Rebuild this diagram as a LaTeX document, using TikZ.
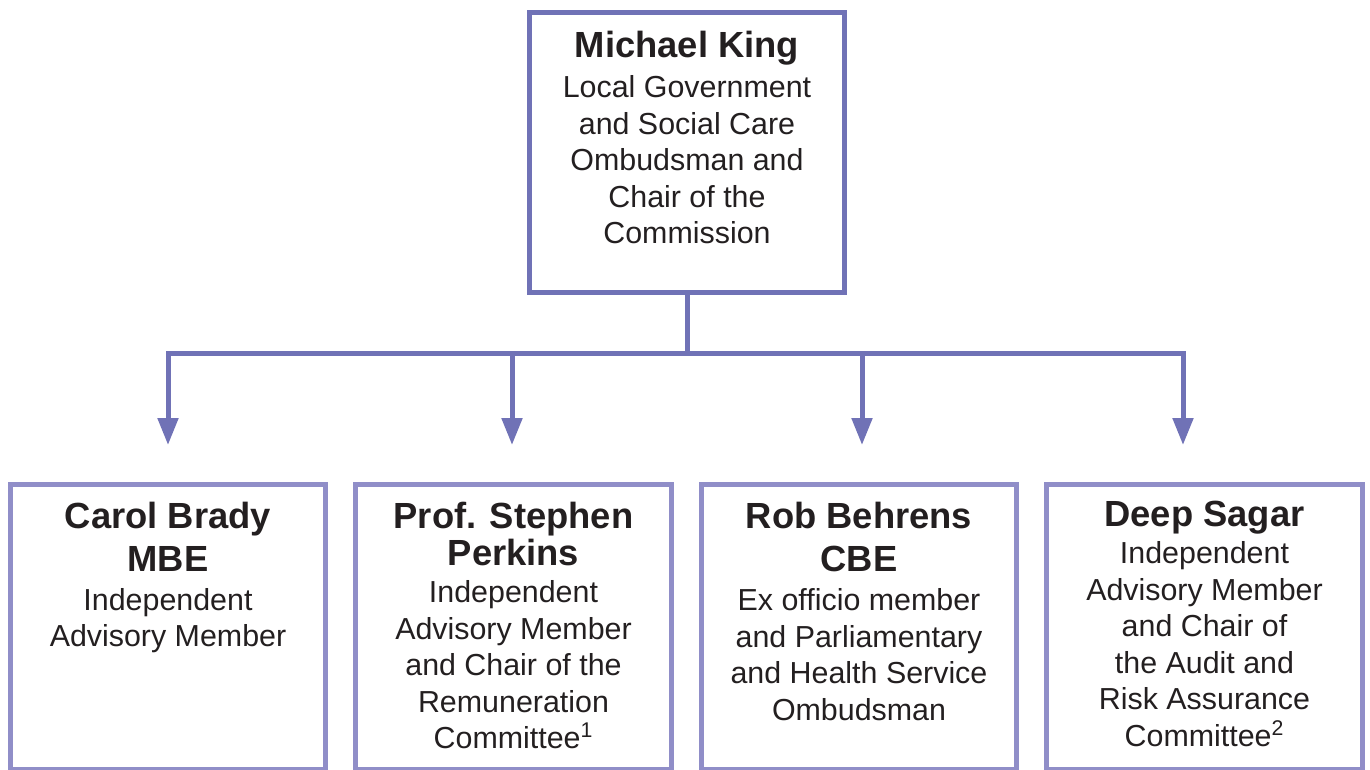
\documentclass[tikz,border=0pt]{standalone}
\usepackage{fontspec}
\setmainfont{Liberation Sans}
\usepackage{xcolor}
\usetikzlibrary{arrows.meta}
\definecolor{linkblue}{HTML}{7072B6}
\definecolor{boxblue}{HTML}{908EC8}
\definecolor{inkgray}{HTML}{231F20}
\begin{document}
\begin{tikzpicture}[x=0.02cm,y=-0.02cm,
    chairbox/.style={draw=linkblue,line width=0.1cm,minimum width=6.32cm,minimum height=5.62cm,inner sep=0pt},
    memberbox/.style={draw=boxblue,line width=0.1cm,minimum width=6.32cm,minimum height=5.71cm,inner sep=0pt},
    personname/.style={anchor=base,align=center,text=inkgray,inner sep=0pt,font=\fontsize{20.7}{24.9}\selectfont\bfseries},
    personrole/.style={anchor=base,align=center,text=inkgray,inner sep=0pt,font=\fontsize{17.3}{20.8}\selectfont},
    link/.style={draw=linkblue,line width=0.1cm},
    linkarrow/.style={link,-{Triangle[width=0.4cm,length=0.54cm]}}]
        \useasboundingbox (0,0) rectangle (1370,769);
        \node[chairbox] (king) at (687,152.5) {};
        \node[memberbox] (brady) at (168,626.75) {};
        \node[memberbox] (perkins) at (513.5,626.75) {};
        \node[memberbox] (behrens) at (859,626.75) {};
        \node[memberbox] (sagar) at (1204.5,626.75) {};
        % text nodes sit on the baseline of their last line
        \node[personname] (kingname) at (687,57) {Michael King};
        \node[personrole] (kingrole) at (687,243.8) {Local Government\\and Social Care\\Ombudsman and\\Chair of the\\Commission};
        \node[personname] (bradyname) at (168,571.9) {Carol Brady\\MBE};
        \node[personrole] (bradyrole) at (168,646.7) {Independent\\Advisory Member};
        \node[personname,font=\fontsize{20.7}{21}\selectfont\bfseries] (perkinsname) at (513.5,565) {Prof. Stephen\\Perkins};
        \node[personrole] (perkinsrole) at (513.5,748.8) {Independent\\Advisory Member\\and Chair of the\\Remuneration\\Committee\textsuperscript{1}};
        \node[personname] (behrensname) at (859,571.9) {Rob Behrens\\CBE};
        \node[personrole] (behrensrole) at (859,720.1) {Ex officio member\\and Parliamentary\\and Health Service\\Ombudsman};
        \node[personname] (sagarname) at (1204.5,526) {Deep Sagar};
        \node[personrole] (sagarrole) at (1204.5,746.5) {Independent\\Advisory Member\\and Chair of\\the Audit and\\Risk Assurance\\Committee\textsuperscript{2}};
        \coordinate (fork) at (687,353);
        \coordinate (tipbrady) at (168,445);
        \coordinate (tipperkins) at (512,445);
        \coordinate (tipbehrens) at (862,445);
        \coordinate (tipsagar) at (1183,445);
        \draw[link] (king.south) -- (fork);
        \draw[link,{Triangle[width=0.4cm,length=0.54cm]}-{Triangle[width=0.4cm,length=0.54cm]}] (tipbrady) -- (tipbrady |- fork) -- (tipsagar |- fork) -- (tipsagar);
        \draw[linkarrow] (tipperkins |- fork) -- (tipperkins);
        \draw[linkarrow] (tipbehrens |- fork) -- (tipbehrens);
\end{tikzpicture}
\end{document}
